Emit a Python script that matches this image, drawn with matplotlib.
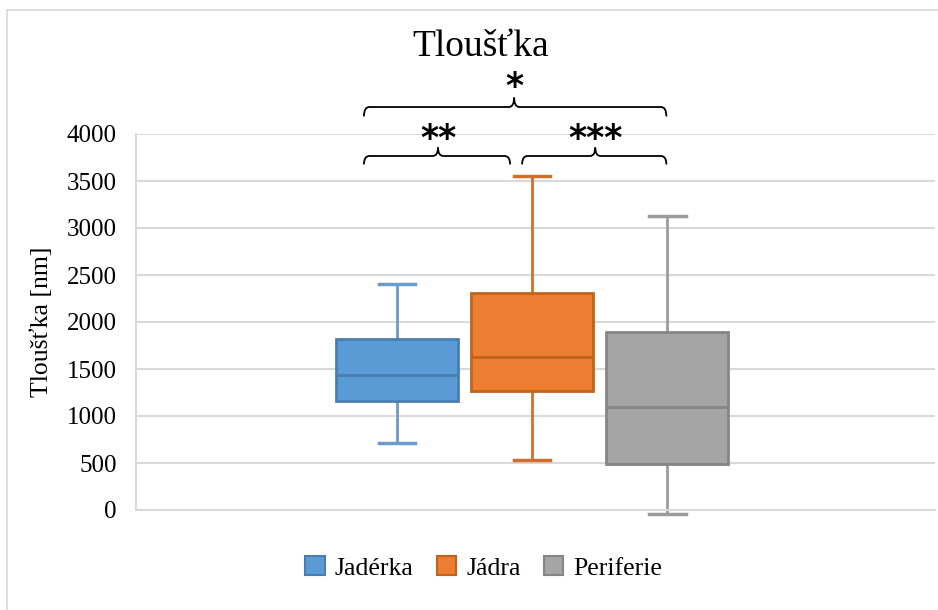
import numpy as np
import matplotlib
matplotlib.use('Agg')
import matplotlib.pyplot as plt
from matplotlib.path import Path
from matplotlib.patches import PathPatch, Patch
from matplotlib.lines import Line2D

#Data#
groups=['Jadérka','Jádra','Periferie']
whislo=[715,535,-45]
q1=[1163,1265,488]
med=[1435,1625,1095]
q3=[1820,2312,1898]
whishi=[2402,3548,3130]
fills=['#5B9BD5','#ED7D31','#A5A5A5']
edges=['#4A7EB0','#C0631F','#858585']
whisk=['#6A9BCB','#D36F2E','#9C9C9C']
#/Data#

plt.rcParams['font.family']=['Liberation Serif','DejaVu Serif']

fig=plt.figure(figsize=(9.38,6.10),dpi=100)
ax=fig.add_axes([136/938,1-510/610,(935-136)/938,376/610])

stats=[]
for i in range(3):
  stats.append(dict(label=groups[i],whislo=whislo[i],q1=q1[i],med=med[i],q3=q3[i],whishi=whishi[i],fliers=[]))

pos=[0,1,2]
bp=ax.bxp(stats,positions=pos,widths=0.9,patch_artist=True,showfliers=False,manage_ticks=False)
for i in range(3):
  b=bp['boxes'][i];b.set_facecolor(fills[i]);b.set_edgecolor(edges[i]);b.set_linewidth(2);b.set_zorder(3)
  bp['medians'][i].set_color(edges[i]);bp['medians'][i].set_linewidth(2);bp['medians'][i].set_zorder(4)
  for j in (2*i,2*i+1):
    bp['whiskers'][j].set_color(whisk[i]);bp['whiskers'][j].set_linewidth(2)
    bp['caps'][j].set_color(whisk[i]);bp['caps'][j].set_linewidth(2.5)
    bp['caps'][j].set_xdata([pos[i]-0.135,pos[i]+0.135])
for k in bp:
  for a in bp[k]:a.set_clip_on(False)

ax.set_xlim(1-2.93,1+2.98)
ax.set_ylim(0,4000)
ax.set_yticks(np.arange(0,4001,500))
ax.set_xticks([])
ax.yaxis.grid(True,color='#D9D9D9',linewidth=1.5,zorder=0)
ax.set_axisbelow(True)
for s in ['top','right']:ax.spines[s].set_visible(False)
for s in ['left','bottom']:ax.spines[s].set_color('#D9D9D9');ax.spines[s].set_linewidth(1.5)
ax.tick_params(axis='y',length=0,labelsize=18,pad=14,colors='#000000')
ax.set_ylabel('Tloušťka [nm]',fontsize=18.5,labelpad=10)

#Braces#
def brace(x0,x1,xm,y,h,r):
  verts=[(x0,y-h),(x0,y),(x0+r,y),(xm-r,y),(xm,y),(xm,y+h),(xm,y),(xm+r,y),(x1-r,y),(x1,y),(x1,y-h)]
  codes=[Path.MOVETO,Path.CURVE3,Path.CURVE3,Path.LINETO,Path.CURVE3,Path.CURVE3,Path.CURVE3,Path.CURVE3,Path.LINETO,Path.CURVE3,Path.CURVE3]
  ax.add_patch(PathPatch(Path(verts,codes),fill=False,lw=1.3,color='black',clip_on=False))

brace(-0.244,1.993,0.867,4287,100,0.04)
brace(-0.244,0.837,0.304,3766,90,0.04)
brace(0.926,1.993,1.467,3766,90,0.04)
star=dict(ha='center',va='baseline',fontsize=25,fontweight='bold',family=['DejaVu Sans'],clip_on=False)
ax.text(0.867,4394,'*',**star)
ax.text(0.304,3840,'**',**star)
ax.text(1.467,3840,'***',**star)
#/Braces#

fig.text(481/938,1-47/610,'Tloušťka',ha='center',va='center',fontsize=27)

handles=[Patch(facecolor=fills[i],edgecolor=edges[i],linewidth=1.5) for i in range(3)]
fig.legend(handles,groups,loc='center',bbox_to_anchor=(484/938,1-568/610),ncol=3,frameon=False,
           fontsize=18.5,handlelength=0.75,handleheight=0.75,handletextpad=0.4,columnspacing=0.9)

#Border#
fig.add_artist(Line2D([7/938,1],[1-10/610,1-10/610],color='#D9D9D9',lw=1.2))
fig.add_artist(Line2D([7/938,7/938],[0,1-10/610],color='#D9D9D9',lw=1.2))

fig.savefig('out.png',dpi=100)
